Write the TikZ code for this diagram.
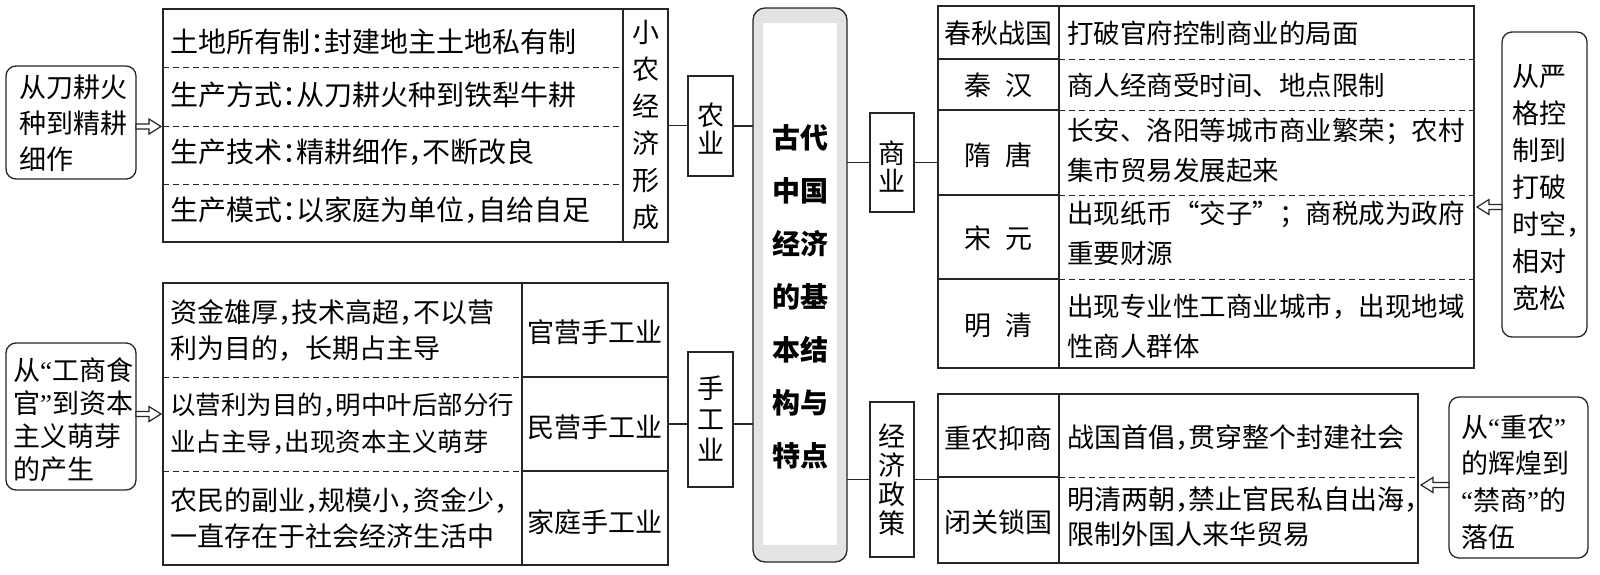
\documentclass[tikz,border=0pt]{standalone}
\usepackage{fontspec}
\setmainfont{Noto Sans CJK SC}
\newfontfamily\qfont{Liberation Serif}
\usetikzlibrary{calc}
\newcommand\hp[1]{\makebox[0.5em][l]{#1}}
\newcommand\oq{{\qfont “}}
\newcommand\cq{{\qfont ”}}
\newcommand\fs[2]{\fontsize{#1}{#2}\selectfont}
\newcommand\harR[2]{\draw[harrow] let \p1=(#1), \p2=(#2) in (\x1,\y1+2.5pt) -- (\x2-12pt,\y1+2.5pt) -- (\x2-12pt,\y1+7.5pt) -- (\x2,\y1) -- (\x2-12pt,\y1-7.5pt) -- (\x2-12pt,\y1-2.5pt) -- (\x1,\y1-2.5pt) -- cycle;}
\newcommand\harL[2]{\draw[harrow] let \p1=(#1), \p2=(#2) in (\x1,\y1+2.5pt) -- (\x2+12pt,\y1+2.5pt) -- (\x2+12pt,\y1+7.5pt) -- (\x2,\y1) -- (\x2+12pt,\y1-7.5pt) -- (\x2+12pt,\y1-2.5pt) -- (\x1,\y1-2.5pt) -- cycle;}
\tikzset{
  ln/.style={draw=black!85, line width=1.1pt},
  dsh/.style={draw=black!85, line width=1pt, dash pattern=on 6pt off 4pt},
  cell/.style={draw=black!85, line width=1.3pt, inner sep=0pt, outer sep=0pt, anchor=north west},
  rbox/.style={cell, rounded corners=10pt},
  harrow/.style={draw=black!85, line width=1.2pt, fill=white, line join=miter},
  txt/.style={inner sep=0pt, anchor=west, align=left, font=\fs{27}{36}},
  ctxt/.style={inner sep=0pt, anchor=center, align=center, font=\fs{27}{36}},
}
\begin{document}
\begin{tikzpicture}[x=1pt,y=-1pt]
\fill[white] (0,0) rectangle (1600,574);
\useasboundingbox (0,0) rectangle (1600,574);

% ---------- center box ----------
\node[cell, rounded corners=12pt, fill=gray!22, minimum width=94, minimum height=554] (C) at (753,8) {};
\fill[white] (763,23) rectangle (837,545);
\node[ctxt, font=\fs{28}{53}\bfseries] (Ct) at (800,296.5) {古代\\中国\\经济\\的基\\本结\\构与\\特点};

% ---------- top-left: agriculture ----------
\node[rbox, minimum width=130, minimum height=113] (A1) at (6,66) {};
\node[txt] (A1t) at (19,123) {从刀耕火\\种到精耕\\细作};
\node[cell, minimum width=505, minimum height=233] (T1) at (163,9) {};
\draw[ln, line width=1.3pt] (623,9) -- (623,242);
\draw[dsh] (163,67) -- (623,67);
\draw[dsh] (163,126) -- (623,126);
\draw[dsh] (163,184) -- (623,184);
\node[txt, font=\fs{28}{36}] (T1a) at (170,42) {土地所有制\hp{：}封建地主土地私有制};
\node[txt, font=\fs{28}{36}] (T1b) at (170,95) {生产方式\hp{：}从刀耕火种到铁犁牛耕};
\node[txt, font=\fs{28}{36}] (T1c) at (170,152) {生产技术\hp{：}精耕细作\hp{，}不断改良};
\node[txt, font=\fs{28}{36}] (T1d) at (170,210) {生产模式\hp{：}以家庭为单位\hp{，}自给自足};
\node[ctxt, font=\fs{27}{37}] (T1v) at (645.5,125) {小\\农\\经\\济\\形\\成};
\node[cell, minimum width=45, minimum height=100] (N1) at (688,76) {};
\node[ctxt, font=\fs{27}{28}] (N1t) at (710.5,129) {农\\业};
\harR{$(A1.east)+(0,4)$}{$(A1.east -| T1.west)+(-2,4)$}
\draw[ln] (T1.east) -- (T1.east -| N1.west);
\draw[ln] (N1.east) -- (N1.east -| C.west);

% ---------- bottom-left: handicraft ----------
\node[rbox, minimum width=130, minimum height=147] (A2) at (6,343) {};
\node[txt, font=\fs{27}{33}] (A2t) at (13,419.5) {从\oq 工商食\\官\cq 到资本\\主义萌芽\\的产生};
\node[cell, minimum width=505, minimum height=282] (T2) at (163,283) {};
\draw[ln, line width=1.3pt] (522,283) -- (522,565);
\draw[dsh] (163,377) -- (522,377);
\draw[dsh] (163,471) -- (522,471);
\draw[ln, line width=1.3pt] (522,377) -- (668,377);
\draw[ln, line width=1.3pt] (522,471) -- (668,471);
\node[txt] (T2a) at (170,330) {资金雄厚\hp{，}技术高超\hp{，}不以营\\利为目的，长期占主导};
\node[txt, font=\fs{25.5}{37}] (T2b) at (170,424) {以营利为目的\hp{，}明中叶后部分行\\业占主导\hp{，}出现资本主义萌芽};
\node[txt] (T2c) at (170,518) {农民的副业\hp{，}规模小\hp{，}资金少\hp{，}\\一直存在于社会经济生活中};
\node[ctxt] (T2d) at (595,332) {官营手工业};
\node[ctxt] (T2e) at (595,427) {民营手工业};
\node[ctxt] (T2f) at (595,522) {家庭手工业};
\node[cell, minimum width=45, minimum height=135] (N2) at (688,352) {};
\node[ctxt, font=\fs{27}{31}] (N2t) at (710.5,419) {手\\工\\业};
\harR{$(A2.east)+(0,-2.5)$}{$(A2.east -| T2.west)+(-2,-2.5)$}
\draw[ln] (T2.east) -- (T2.east -| N2.west);
\draw[ln] (T2.east -| N2.east) -- (T2.east -| C.west);

% ---------- top-right: commerce ----------
\node[cell, minimum width=44, minimum height=99] (N3) at (870,113) {};
\node[ctxt, font=\fs{27}{28}] (N3t) at (892,166) {商\\业};
\node[cell, minimum width=536, minimum height=362] (T3) at (938,6) {};
\draw[ln, line width=1.3pt] (1059,6) -- (1059,368);
\foreach \yy in {59,110,195,279} {
  \draw[ln, line width=1.3pt] (938,\yy) -- (1059,\yy);
  \draw[dsh] (1059,\yy) -- (1474,\yy);
}
\node[ctxt] (T3a) at (998.5,33) {春秋战国};
\node[ctxt] (T3b) at (998.5,85) {秦\hspace{0.55em}汉};
\node[ctxt] (T3c) at (998.5,155) {隋\hspace{0.55em}唐};
\node[ctxt] (T3d) at (998.5,238) {宋\hspace{0.55em}元};
\node[ctxt] (T3e) at (998.5,325) {明\hspace{0.55em}清};
\node[txt, font=\fs{26.5}{40}] (T3f) at (1067,33) {打破官府控制商业的局面};
\node[txt, font=\fs{26.5}{40}] (T3g) at (1067,85) {商人经商受时间、地点限制};
\node[txt, font=\fs{26.5}{40}] (T3h) at (1067,150) {长安、洛阳等城市商业繁荣；农村\\集市贸易发展起来};
\node[txt, font=\fs{26.5}{40}] (T3i) at (1067,233) {出现纸币“交子”；商税成为政府\\重要财源};
\node[txt, font=\fs{26.5}{40}] (T3j) at (1067,326) {出现专业性工商业城市，出现地域\\性商人群体};
\node[rbox, minimum width=85, minimum height=305] (R1) at (1502,32) {};
\node[txt, font=\fs{27}{37}] (R1t) at (1512,187.5) {从严\\格控\\制到\\打破\\时空，\\相对\\宽松};
\draw[ln] (N3.west -| C.east) -- (N3.west);
\draw[ln] (N3.east) -- (N3.east -| T3.west);
\harL{$(R1.west)+(0,22.5)$}{$(R1.west -| T3.east)+(3,22.5)$}

% ---------- bottom-right: policy ----------
\node[cell, minimum width=44, minimum height=155] (N4) at (870,402) {};
\node[ctxt, font=\fs{27}{29}] (N4t) at (892,480) {经\\济\\政\\策};
\node[cell, minimum width=480, minimum height=169] (T4) at (938,394) {};
\draw[ln, line width=1.3pt] (1059,394) -- (1059,563);
\draw[ln, line width=1.3pt] (938,477) -- (1059,477);
\draw[dsh] (1059,477) -- (1418,477);
\node[ctxt] (T4a) at (998.5,438) {重农抑商};
\node[ctxt] (T4b) at (998.5,522) {闭关锁国};
\node[txt] (T4c) at (1067,438) {战国首倡\hp{，}贯穿整个封建社会};
\node[txt, font=\fs{27}{35}] (T4d) at (1067,516.5) {明清两朝\hp{，}禁止官民私自出海\hp{，}\\限制外国人来华贸易};
\node[rbox, minimum width=139, minimum height=161] (R2) at (1449,397) {};
\node[txt, font=\fs{27}{36.7}] (R2t) at (1461,482) {从\oq 重农\cq\\的辉煌到\\\oq 禁商\cq 的\\落伍};
\draw[ln] (N4.west -| C.east) -- (N4.west);
\draw[ln] (N4.east) -- (N4.east -| T4.west);
\harL{$(R2.west)+(0,7.5)$}{$(R2.west -| T4.east)+(3,7.5)$}
\end{tikzpicture}
\end{document}
